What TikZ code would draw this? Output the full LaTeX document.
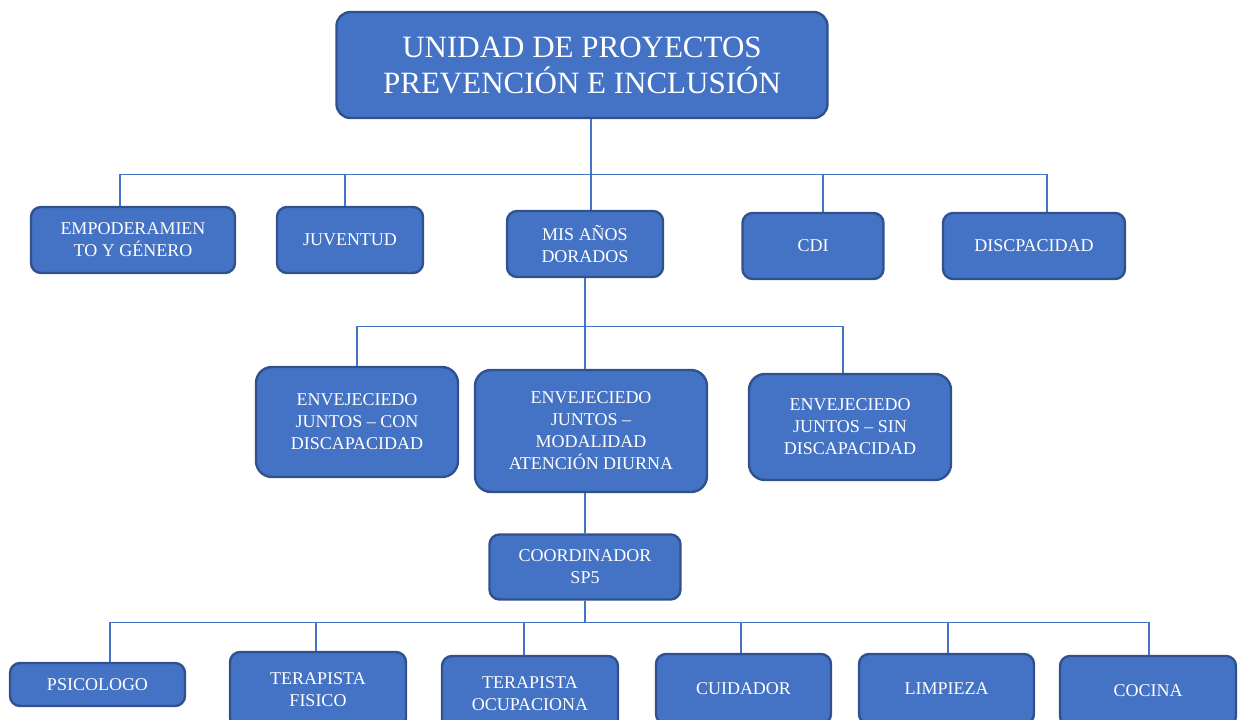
\documentclass[tikz,border=0pt]{standalone}
\usepackage{fontspec}
\setmainfont{Liberation Serif}
\definecolor{boxfill}{RGB}{68,114,196}
\definecolor{boxline}{RGB}{47,82,143}
\begin{document}
\begin{tikzpicture}[x=1pt,y=-1pt,
    unit/.style={draw=boxline,fill=boxfill,line width=2.4pt,rounded corners=10pt,text=white,
        align=center,inner sep=0pt,font=\fontsize{18}{22}\selectfont},
    bigunit/.style={unit,rounded corners=16pt},
    link/.style={boxfill,line width=1.2pt}]
    \useasboundingbox (0,0) rectangle (1242,720);
    \clip (0,0) rectangle (1242,720);

    \node[unit,minimum width=491,minimum height=106,rounded corners=14pt,font=\fontsize{31}{36}\selectfont] (top) at (582,65) {UNIDAD DE PROYECTOS\\PREVENCIÓN E INCLUSIÓN};

    \node[unit,minimum width=204,minimum height=66] (empo) at (133,240) {EMPODERAMIEN\\TO Y GÉNERO};
    \node[unit,minimum width=146,minimum height=66] (juv) at (350,240) {JUVENTUD};
    \node[unit,minimum width=156,minimum height=66] (mis) at (585,244) {MIS AÑOS\\DORADOS};
    \node[unit,minimum width=141,minimum height=66] (cdi) at (813,246) {CDI};
    \node[unit,minimum width=182,minimum height=66] (disc) at (1034,246) {DISCPACIDAD};

    \node[bigunit,minimum width=202,minimum height=110] (envcon) at (357,422) {ENVEJECIEDO\\JUNTOS – CON\\DISCAPACIDAD};
    \node[bigunit,minimum width=232,minimum height=122] (envmod) at (591,431) {ENVEJECIEDO\\JUNTOS –\\MODALIDAD\\ATENCIÓN DIURNA};
    \node[bigunit,minimum width=202,minimum height=106] (envsin) at (850,427) {ENVEJECIEDO\\JUNTOS – SIN\\DISCAPACIDAD};

    \node[unit,minimum width=191,minimum height=65] (coord) at (585,567) {COORDINADOR\\SP5};

    \node[unit,minimum width=175,minimum height=43] (psico) at (97.5,684.5) {PSICOLOGO};
    \node[unit,minimum width=176,minimum height=76] (fisico) at (318,690) {TERAPISTA\\FISICO};
    \node[unit,minimum width=176,minimum height=75] (ocup) at (530,693.5) {TERAPISTA\\OCUPACIONA};
    \node[unit,minimum width=175,minimum height=70] (cuid) at (743.5,689) {CUIDADOR};
    \node[unit,minimum width=175,minimum height=70] (limp) at (946.5,689) {LIMPIEZA};
    \node[unit,minimum width=176,minimum height=70] (cocina) at (1148,691) {COCINA};

    \draw[link] ([xshift=9pt]top.south) -- ++(0,55) coordinate (hubtop);
    \foreach \n/\dx in {empo/-13,juv/-5,mis/6,cdi/10,disc/13}
        \draw[link] (hubtop) -| ([xshift=\dx pt]\n.north);

    \draw[link] (mis.south) -- ++(0,48) coordinate (hubmis);
    \foreach \n/\dx in {envcon/0,envmod/-6,envsin/-7}
        \draw[link] (hubmis) -| ([xshift=\dx pt]\n.north);

    \draw[link] (coord.north) -- (coord.north |- envmod.south);

    \draw[link] (coord.south) -- ++(0,22) coordinate (hubcoord);
    \foreach \n/\dx in {psico/12.5,fisico/-2,ocup/-6,cuid/-2.5,limp/1.5,cocina/1}
        \draw[link] (hubcoord) -| ([xshift=\dx pt]\n.north);
\end{tikzpicture}
\end{document}
